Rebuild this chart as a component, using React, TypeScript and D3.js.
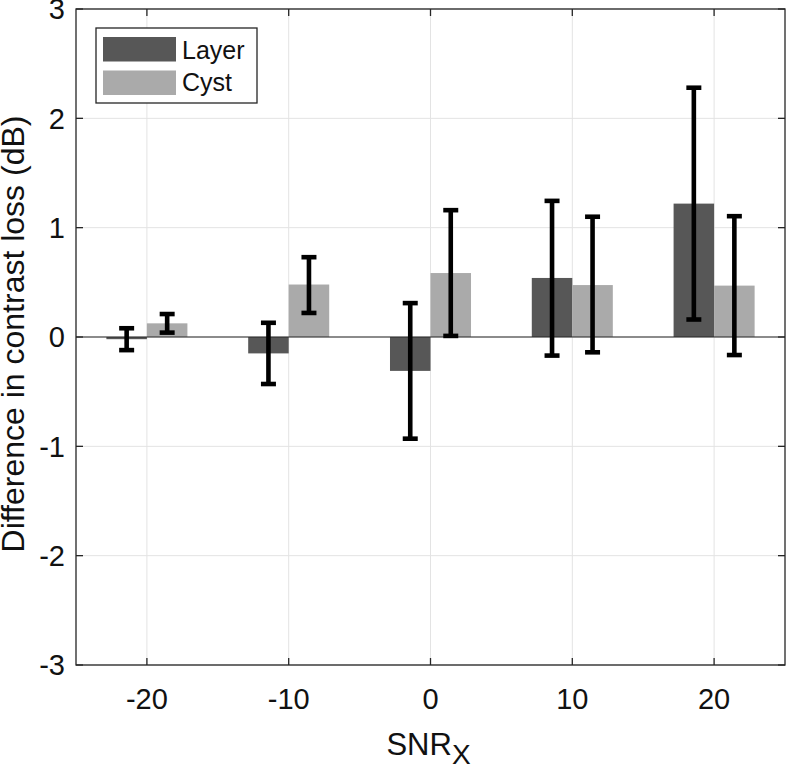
import React from "react";
import * as d3 from "d3";

const snr = [-20, -10, 0, 10, 20];
const layerMean = [-0.02, -0.15, -0.31, 0.54, 1.22];
const layerLow = [-0.12, -0.43, -0.93, -0.17, 0.16];
const layerHigh = [0.08, 0.13, 0.31, 1.245, 2.28];
const cystMean = [0.125, 0.48, 0.585, 0.475, 0.47];
const cystLow = [0.04, 0.22, 0.01, -0.14, -0.165];
const cystHigh = [0.21, 0.73, 1.16, 1.1, 1.105];
const xTicks = [-20, -10, 0, 10, 20];
const yTicks = [-3, -2, -1, 0, 1, 2, 3];
const seriesNames = ["Layer", "Cyst"];
const seriesColors = ["#575757", "#aaaaaa"];

const W = 787;
const H = 766;
const L = 76;
const R = 785;
const T = 9;
const B = 665;
const FONT = "'Liberation Sans', Arial, Helvetica, sans-serif";
const AX = "#262626";

export default function App() {
  const x = d3.scaleLinear().domain([-25, 25]).range([L, R]);
  const y = d3.scaleLinear().domain([-3, 3]).range([B, T]);
  const barW = 2.857;
  const offsets = [-barW / 2, barW / 2];
  const series = [
    { mean: layerMean, low: layerLow, high: layerHigh },
    { mean: cystMean, low: cystLow, high: cystHigh },
  ];
  const capHalf = 7.5;
  const tickLen = 7;

  return (
    <svg
      width={W}
      height={H}
      style={{ position: "absolute", left: 0, top: 0, background: "#fff" }}
      fontFamily={FONT}
    >
      <rect x={0} y={0} width={W} height={H} fill="#fff" />
      {/* grid */}
      <g stroke="#e3e3e3" strokeWidth={1}>
        {xTicks.map((t) => (
          <line key={"gx" + t} x1={x(t)} x2={x(t)} y1={T} y2={B} />
        ))}
        {yTicks.map((t) => (
          <line key={"gy" + t} x1={L} x2={R} y1={y(t)} y2={y(t)} />
        ))}
      </g>
      {/* bars */}
      {series.map((s, si) =>
        snr.map((v, i) => {
          const x0 = x(v + offsets[si] - barW / 2);
          const x1 = x(v + offsets[si] + barW / 2);
          const y0 = y(Math.max(0, s.mean[i]));
          const y1 = y(Math.min(0, s.mean[i]));
          return (
            <rect
              key={"b" + si + "-" + i}
              x={x0}
              y={y0}
              width={x1 - x0}
              height={Math.max(0.5, y1 - y0)}
              fill={seriesColors[si]}
            />
          );
        })
      )}
      {/* baseline */}
      <line x1={L} x2={R} y1={y(0)} y2={y(0)} stroke={AX} strokeWidth={1.2} />
      {/* error bars */}
      <g stroke="#000" strokeWidth={4.6}>
        {series.map((s, si) =>
          snr.map((v, i) => {
            const cx = x(v + offsets[si]);
            return (
              <g key={"e" + si + "-" + i}>
                <line x1={cx} x2={cx} y1={y(s.low[i])} y2={y(s.high[i])} />
                <line x1={cx - capHalf} x2={cx + capHalf} y1={y(s.low[i])} y2={y(s.low[i])} />
                <line x1={cx - capHalf} x2={cx + capHalf} y1={y(s.high[i])} y2={y(s.high[i])} />
              </g>
            );
          })
        )}
      </g>
      {/* axes box and ticks */}
      <g stroke={AX} strokeWidth={1.3} fill="none">
        <rect x={L} y={T} width={R - L} height={B - T} />
        {xTicks.map((t) => (
          <g key={"tx" + t}>
            <line x1={x(t)} x2={x(t)} y1={B} y2={B - tickLen} />
            <line x1={x(t)} x2={x(t)} y1={T} y2={T + tickLen} />
          </g>
        ))}
        {yTicks.map((t) => (
          <g key={"ty" + t}>
            <line x1={L} x2={L + tickLen} y1={y(t)} y2={y(t)} />
            <line x1={R} x2={R - tickLen} y1={y(t)} y2={y(t)} />
          </g>
        ))}
      </g>
      {/* tick labels */}
      <g fill="#111" fontSize={29}>
        {xTicks.map((t) => (
          <text key={"lx" + t} x={x(t)} y={709} textAnchor="middle">
            {String(t)}
          </text>
        ))}
        {yTicks.map((t) => (
          <text key={"ly" + t} x={65} y={y(t)} dy="0.36em" textAnchor="end">
            {String(t)}
          </text>
        ))}
      </g>
      {/* axis labels */}
      <text x={(L + R) / 2 - 2} y={755} textAnchor="middle" fontSize={31} fill="#111">
        SNR
        <tspan fontSize={28} dy={9}>X</tspan>
      </text>
      <text
        transform={`translate(24, ${(T + B) / 2 - 3}) rotate(-90)`}
        textAnchor="middle"
        fontSize={32}
        fill="#111"
      >
        Difference in contrast loss (dB)
      </text>
      {/* legend */}
      <g>
        <rect x={96} y={28} width={161} height={75} fill="#fff" stroke={AX} strokeWidth={1.3} />
        {seriesNames.map((n, i) => (
          <g key={"lg" + n}>
            <rect x={103} y={37 + i * 33.5} width={73} height={24.5} fill={seriesColors[i]} />
            <text x={182} y={58.5 + i * 32} fontSize={25} fill="#111">
              {n}
            </text>
          </g>
        ))}
      </g>
    </svg>
  );
}
